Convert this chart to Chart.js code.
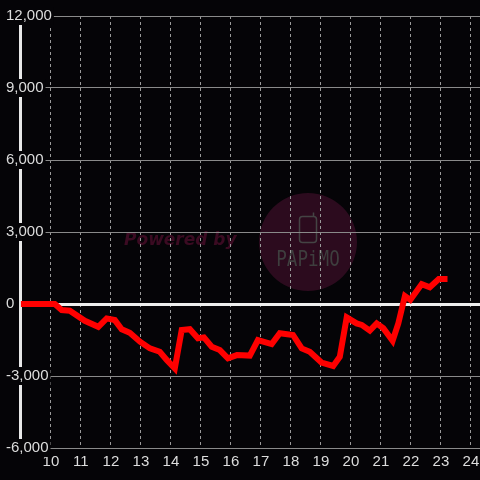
<!DOCTYPE html>
<html>
<head>
<meta charset="utf-8">
<script src="https://cdn.jsdelivr.net/npm/chart.js@4/dist/chart.umd.min.js"></script>
<style>
  html, body { margin: 0; padding: 0; background: #050407; }
  #wrap { width: 480px; height: 480px; }
</style>
</head>
<body>
<div id="wrap"><canvas id="slumpChart" width="480" height="480"></canvas></div>
<script>
// hour of day (decimal) and running difference
const times = [9, 10.13, 10.36, 10.63, 11.13, 11.58, 11.86, 12.13, 12.36, 12.63, 12.97, 13.3, 13.63, 13.86, 14.13,
  14.36, 14.63, 14.9, 15.1, 15.36, 15.63, 15.9, 16.2, 16.63, 16.9, 17.36, 17.63, 18.07, 18.36, 18.63, 19.02,
  19.41, 19.63, 19.86, 20.19, 20.36, 20.63, 20.86, 21.08, 21.39, 21.58, 21.8, 21.98, 22.36, 22.63, 22.93, 23.22];
const values = [0, 0, -250, -280, -700, -950, -600, -670, -1050, -1200, -1570, -1850, -1990, -2330, -2680,
  -1080, -1050, -1430, -1390, -1780, -1920, -2260, -2130, -2150, -1500, -1670, -1220, -1290, -1850, -1990, -2440,
  -2580, -2200, -560, -810, -870, -1110, -810, -1010, -1530, -810, 330, 170, 830, 700, 1040, 1040];
const hourTicks = [10, 11, 12, 13, 14, 15, 16, 17, 18, 19, 20, 21, 22, 23, 24];
const yMin = -6000, yMax = 12000, yStep = 1500, yLabelStep = 3000;

const bg = '#050407';

const backdropPlugin = {
    id: 'backdrop',
    beforeDraw(chart) {
        const ctx = chart.ctx;
        ctx.save();
        ctx.fillStyle = bg;
        ctx.fillRect(0, 0, chart.width, chart.height);

        // watermark
        ctx.fillStyle = '#2c0b1e';
        ctx.beginPath();
        ctx.arc(308, 242, 49, 0, Math.PI * 2);
        ctx.fill();

        ctx.font = 'italic bold 17px "DejaVu Sans"';
        ctx.fillStyle = '#3b0b22';
        ctx.textAlign = 'left';
        ctx.textBaseline = 'middle';
        ctx.fillText('Powered by', 124, 241);

        ctx.strokeStyle = '#444';
        ctx.lineWidth = 1.5;
        ctx.beginPath();
        ctx.roundRect(299.5, 216.5, 17, 26, 3);
        ctx.stroke();
        ctx.beginPath();
        ctx.moveTo(313.5, 216.5);
        ctx.lineTo(313.5, 212.5);
        ctx.stroke();

        ctx.fillStyle = '#3e3e3e';
        ctx.font = '22px "DejaVu Sans Mono"';
        ctx.textAlign = 'center';
        ctx.textBaseline = 'alphabetic';
        ctx.translate(308, 266);
        ctx.scale(0.8, 1);
        ctx.fillText('PAPiMO', 0, 0);
        ctx.restore();
    }
};

const tickFont = { family: '"Liberation Sans", Arial, sans-serif', size: 15 };

new Chart(document.getElementById('slumpChart'), {
    type: 'line',
    data: {
        datasets: [{
            data: times.map((t, i) => ({ x: t, y: values[i] })),
            borderColor: '#ff0000',
            borderWidth: 6,
            pointRadius: 0,
            tension: 0,
            fill: false
        }]
    },
    options: {
        responsive: false,
        animation: false,
        events: [],
        layout: { padding: { left: 20, top: 16, right: 0, bottom: 4 } },
        plugins: { legend: { display: false }, tooltip: { enabled: false } },
        scales: {
            x: {
                type: 'linear',
                min: 8.97,
                max: 24.303,
                afterBuildTicks: s => { s.ticks = hourTicks.map(v => ({ value: v })); },
                afterFit: s => { s.paddingLeft = 0; s.paddingRight = 0; },
                grid: { color: '#9a9a9a', lineWidth: 1, drawTicks: false },
                border: { display: false, dash: [3, 3] },
                ticks: { color: '#dddddd', font: tickFont, padding: 5, maxRotation: 0, autoSkip: false }
            },
            y: {
                min: yMin,
                max: yMax,
                afterFit: s => { s.width = 0; s.paddingTop = 0; s.paddingBottom = 0; },
                grid: {
                    drawTicks: false,
                    color: c => c.tick && c.tick.value === 0 ? '#eeeeee' : '#8a8a8a',
                    lineWidth: c => c.tick && c.tick.value === 0 ? 3 : 1
                },
                border: { display: true, color: '#e8e8e8', width: 3 },
                ticks: {
                    stepSize: yStep,
                    mirror: true,
                    padding: -14,
                    crossAlign: 'near',
                    color: '#dddddd',
                    font: tickFont,
                    showLabelBackdrop: true,
                    backdropColor: bg,
                    backdropPadding: { top: 0, bottom: 0, left: 2, right: 2 },
                    callback: v => v % yLabelStep === 0 ? v.toLocaleString('en-US') : null
                }
            }
        }
    },
    plugins: [backdropPlugin]
});
</script>
</body>
</html>
